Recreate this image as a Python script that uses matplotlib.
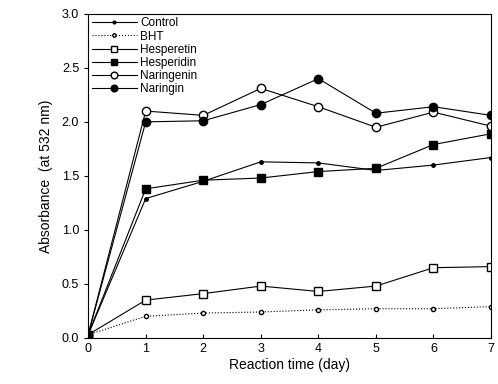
import matplotlib
matplotlib.use("Agg")
import matplotlib.pyplot as plt

plt.rcParams['font.family'] = ['Liberation Sans', 'DejaVu Sans']

days = [0, 1, 2, 3, 4, 5, 6, 7]
control = [0.03, 1.29, 1.45, 1.63, 1.62, 1.55, 1.60, 1.67]
bht = [0.03, 0.20, 0.23, 0.24, 0.26, 0.27, 0.27, 0.29]
hesperetin = [0.03, 0.35, 0.41, 0.48, 0.43, 0.48, 0.65, 0.66]
hesperidin = [0.03, 1.38, 1.46, 1.48, 1.54, 1.57, 1.79, 1.89]
naringenin = [0.03, 2.10, 2.06, 2.31, 2.14, 1.95, 2.09, 1.96]
naringin = [0.03, 2.00, 2.01, 2.16, 2.40, 2.08, 2.14, 2.06]

fig = plt.figure(figsize=(4.98, 3.84), dpi=100)
ax = fig.add_axes([0.177, 0.12, 0.809, 0.844])

ax.plot(days, control, '-', color='k', lw=0.8, marker='o', ms=2.5, label='Control')
ax.plot(days, bht, ':', color='k', lw=0.8, marker='o', ms=3, mfc='white', label='BHT')
ax.plot(days, hesperetin, '-', color='k', lw=0.8, marker='s', ms=6, mfc='white', label='Hesperetin')
ax.plot(days, hesperidin, '-', color='k', lw=0.8, marker='s', ms=6, mfc='k', label='Hesperidin')
ax.plot(days, naringenin, '-', color='k', lw=0.8, marker='o', ms=6, mfc='white', label='Naringenin')
ax.plot(days, naringin, '-', color='k', lw=0.8, marker='o', ms=6, mfc='k', label='Naringin')

ax.set_xlim(0, 7)
ax.set_ylim(0, 3)
ax.set_xticks(days)
ax.set_yticks([0, 0.5, 1.0, 1.5, 2.0, 2.5, 3.0])
ax.set_yticklabels(['0.0', '0.5', '1.0', '1.5', '2.0', '2.5', '3.0'])
ax.tick_params(axis='x', direction='in', length=3, labelsize=9)
ax.tick_params(axis='y', direction='out', length=3, labelsize=9)
for s in ax.spines.values():
    s.set_linewidth(0.8)

ax.set_xlabel('Reaction time (day)', fontsize=10, labelpad=2)
ax.set_ylabel('Absorbance  (at 532 nm)', fontsize=10, labelpad=6)

ax.legend(loc='upper left', fontsize=8.5, frameon=False, handlelength=3.8,
          labelspacing=0.1, borderaxespad=0.1, handletextpad=0.3,
          borderpad=0.2, markerscale=0.8)

plt.savefig("out.png")
